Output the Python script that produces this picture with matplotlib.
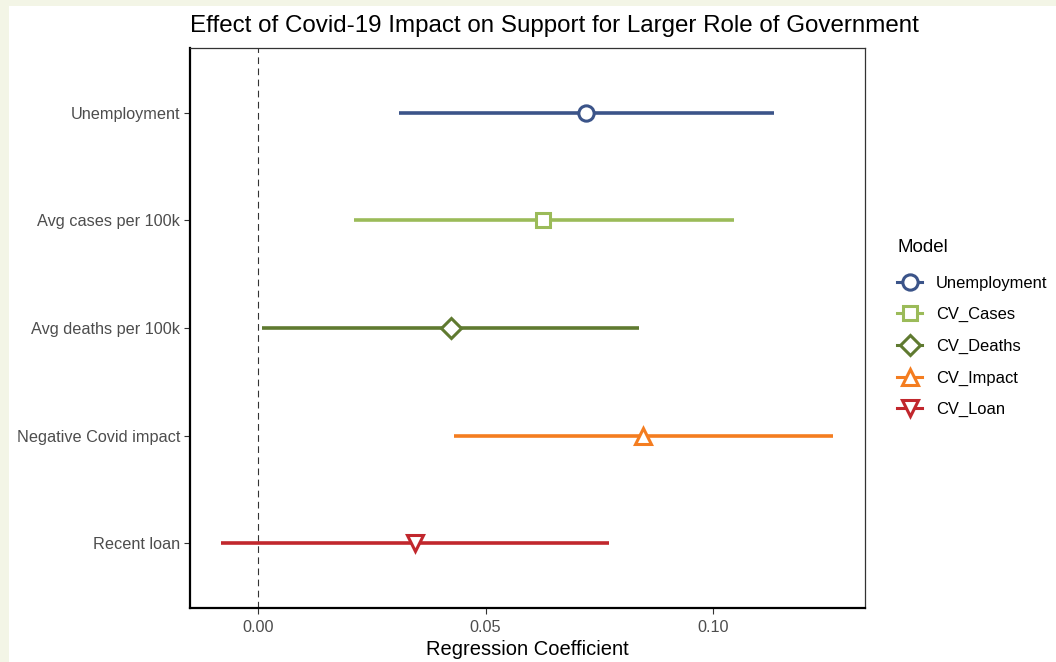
import matplotlib
matplotlib.use("Agg")
import matplotlib.pyplot as plt
from matplotlib.lines import Line2D
from matplotlib.patches import Rectangle

# ---- data ----
categories = ["Unemployment", "Avg cases per 100k", "Avg deaths per 100k",
              "Negative Covid impact", "Recent loan"]
models = ["Unemployment", "CV_Cases", "CV_Deaths", "CV_Impact", "CV_Loan"]
estimates = [0.0721, 0.0627, 0.0423, 0.0846, 0.0344]
ci_low = [0.0309, 0.0211, 0.0009, 0.0430, -0.0081]
ci_high = [0.1134, 0.1046, 0.0836, 0.1263, 0.0770]
xticks = [0.00, 0.05, 0.10]
xticklabels = ["0.00", "0.05", "0.10"]

colors = ["#3b5489", "#9bbb59", "#5f7a30", "#f47d20", "#c1272d"]
markers = ["o", "s", "D", "^", "v"]
msizes = [11, 10, 10, 12, 12]

plt.rcParams['font.family'] = ['Liberation Sans', 'DejaVu Sans']

fig = plt.figure(figsize=(10.56, 6.62), dpi=100)
fig.patch.set_facecolor("#f3f5e6")
fig.patches.append(Rectangle((9/1056, 0), 1 - 9/1056, 1 - 6/662,
                             transform=fig.transFigure, facecolor="white",
                             edgecolor="none", zorder=-10))

ax = fig.add_axes([190/1056, 1 - 608/662, (865 - 190)/1056, (608 - 48)/662])
ax.set_facecolor("white")

n = len(categories)
ypos = list(range(n, 0, -1))

ax.axvline(0, color="#333333", lw=0.8, ls=(0, (6, 4)), zorder=1)

for i in range(n):
    ax.plot([ci_low[i], ci_high[i]], [ypos[i], ypos[i]], color=colors[i],
            lw=2.6, solid_capstyle="butt", zorder=2)
    ax.plot([estimates[i]], [ypos[i]], marker=markers[i], ms=msizes[i],
            mfc="white", mec=colors[i], mew=2.2, ls="none", zorder=3)

ax.set_xlim(-0.0149, 0.1333)
ax.set_ylim(0.4, 5.6)
ax.set_yticks(ypos)
ax.set_yticklabels(categories)
ax.set_xticks(xticks)
ax.set_xticklabels(xticklabels)
ax.tick_params(axis="both", labelsize=11.7, labelcolor="#4d4d4d", color="#333333",
               length=4, width=0.8)
ax.tick_params(axis="y", pad=3)
ax.tick_params(axis="x", pad=5)

for s in ["left", "bottom"]:
    ax.spines[s].set_linewidth(1.6)
    ax.spines[s].set_color("black")
for s in ["top", "right"]:
    ax.spines[s].set_linewidth(0.9)
    ax.spines[s].set_color("#333333")

ax.set_xlabel("Regression Coefficient", fontsize=14.5, labelpad=3)
fig.text(190/1056, 1 - 26/662, "Effect of Covid-19 Impact on Support for Larger Role of Government",
         fontsize=17.4, ha="left", va="center", color="black")

handles = [Line2D([0], [0], color=colors[i], lw=2.2, marker=markers[i],
                  ms=msizes[i], mfc="white", mec=colors[i], mew=2.2)
           for i in range(n)]
leg = fig.legend(handles, models, title="Model", loc="upper left",
                 bbox_to_anchor=(889/1056, 1 - 231/662), frameon=False,
                 fontsize=11.9, title_fontsize=13.5, handlelength=1.5,
                 labelspacing=1.0, handletextpad=0.85, borderpad=0)
leg._legend_box.align = "left"
leg._legend_box.sep = 14

fig.savefig("out.png", dpi=100, facecolor=fig.get_facecolor())
